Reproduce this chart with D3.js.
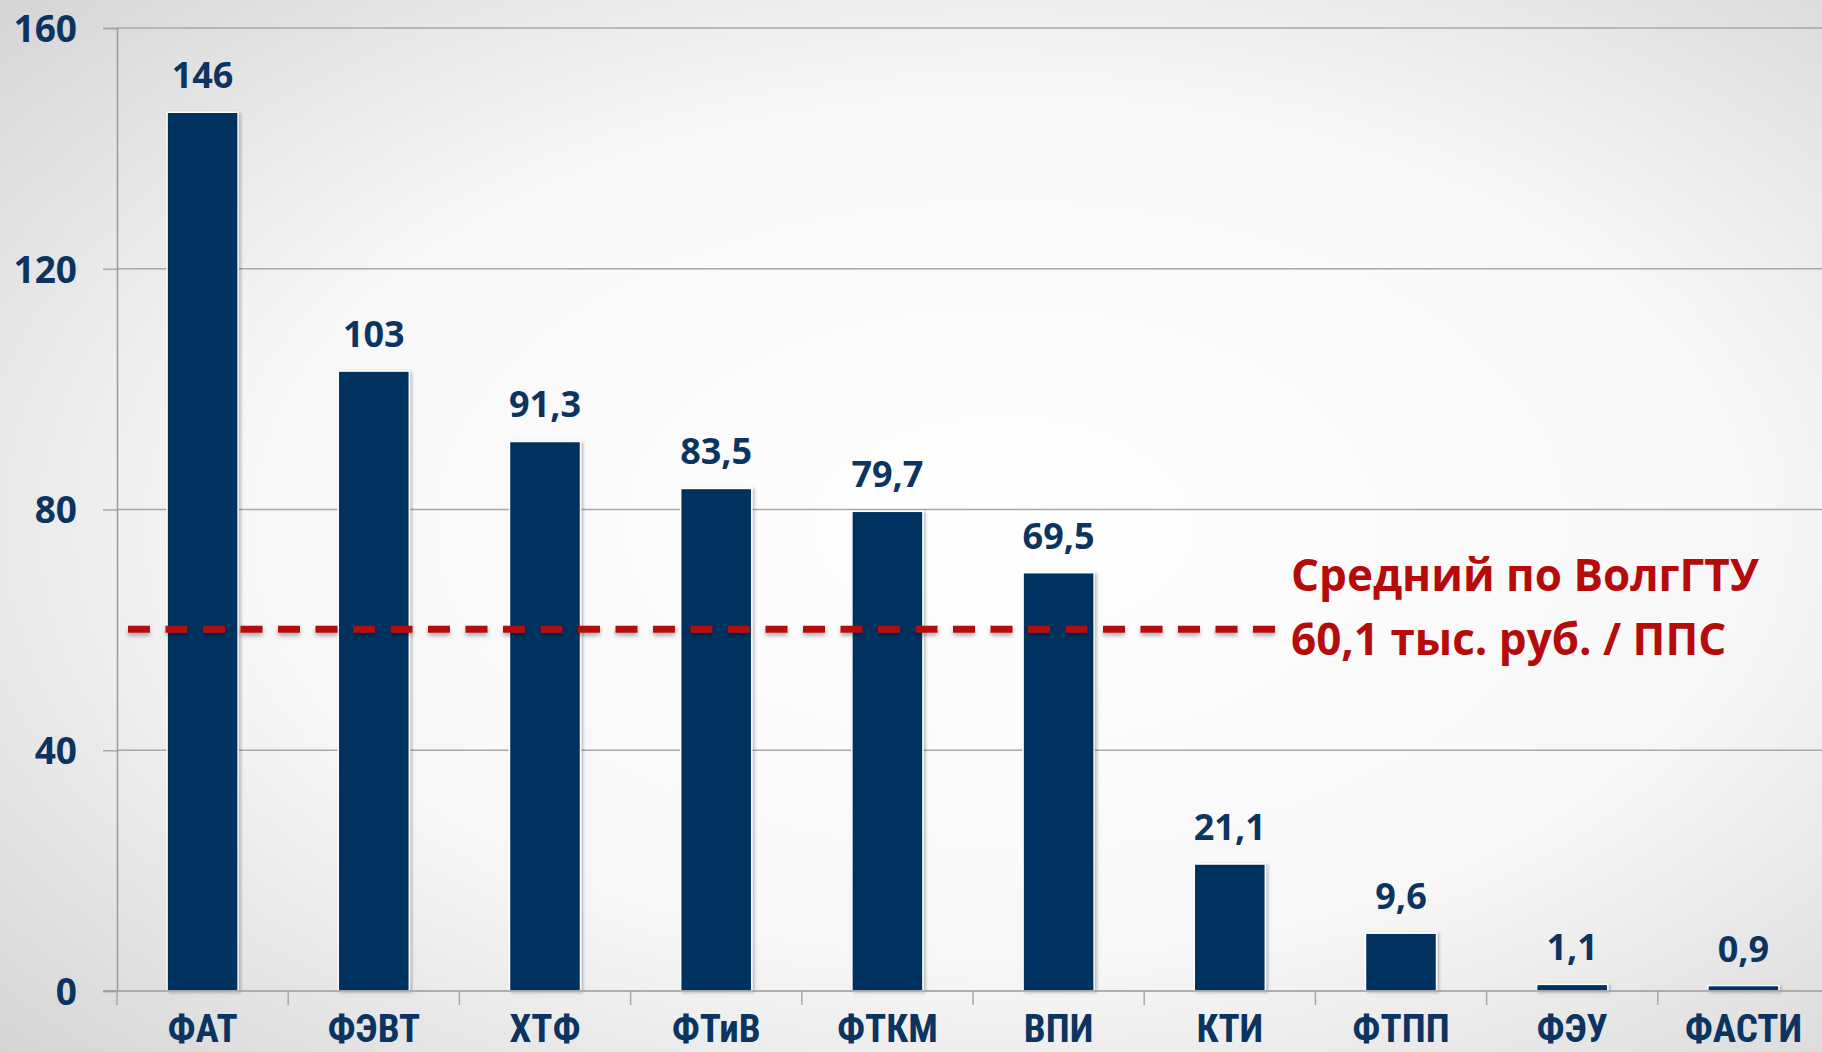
<!DOCTYPE html>
<html>
<head>
<meta charset="utf-8">
<script src="https://cdn.jsdelivr.net/npm/d3@7"></script>
<style>
  html, body { margin: 0; padding: 0; overflow: hidden; }
  svg { display: block; }
</style>
</head>
<body>
<svg id="vis"></svg>
<script>
// data
const faculties = ["ФАТ", "ФЭВТ", "ХТФ", "ФТиВ", "ФТКМ", "ВПИ", "КТИ", "ФТПП", "ФЭУ", "ФАСТИ"];
const values = [146, 103, 91.3, 83.5, 79.7, 69.5, 21.1, 9.6, 1.1, 0.9];
const yTicks = [0, 40, 80, 120, 160];
const average = 60.1;
const averageLines = ["Средний по ВолгГТУ", "60,1 тыс. руб. / ППС"];

const width = 1822;
const height = 1052;
const navy = "#0b3461";
const barColor = "#03315f";
const red = "#b50b0b";

const svg = d3.select("svg#vis")
  .attr("width", width)
  .attr("height", height);

// background: light radial gradient like the slide
const defs = svg.append("defs");
const bg = defs.append("radialGradient")
  .attr("id", "bg")
  .attr("cx", "55%").attr("cy", "50%").attr("r", "75%");
bg.append("stop").attr("offset", "0%").attr("stop-color", "#ffffff");
bg.append("stop").attr("offset", "55%").attr("stop-color", "#f7f7f7");
bg.append("stop").attr("offset", "100%").attr("stop-color", "#d4d4d4");

// shadow under the dashed line (user space so a flat line still gets a region)
const shadow = defs.append("filter").attr("id", "shadow")
  .attr("filterUnits", "userSpaceOnUse")
  .attr("x", 0).attr("y", 0).attr("width", width).attr("height", height);
shadow.append("feDropShadow")
  .attr("dx", 0).attr("dy", 3).attr("stdDeviation", 2)
  .attr("flood-color", "#000").attr("flood-opacity", 0.3);

const barShadow = defs.append("filter").attr("id", "barShadow")
  .attr("filterUnits", "userSpaceOnUse")
  .attr("x", 0).attr("y", 0).attr("width", width).attr("height", height);
barShadow.append("feDropShadow")
  .attr("dx", 2).attr("dy", 1).attr("stdDeviation", 1.5)
  .attr("flood-color", "#000").attr("flood-opacity", 0.25);

svg.append("rect")
  .attr("width", width)
  .attr("height", height)
  .attr("fill", "url(#bg)");

// scales
const x = d3.scaleBand()
  .domain(faculties)
  .range([117, 1829])
  .paddingInner(0.585)
  .paddingOuter(0.2925);

const y = d3.scaleLinear()
  .domain([0, 160])
  .range([991, 28]);

const plot = svg.append("g").attr("id", "plot");

// gridlines
plot.append("g").attr("id", "grid")
  .selectAll("line")
  .data(yTicks.filter(d => d > 0))
  .enter().append("line")
  .attr("x1", 117)
  .attr("x2", width)
  .attr("y1", d => y(d))
  .attr("y2", d => y(d))
  .attr("stroke", "#a8a8a8")
  .attr("stroke-width", 1.5);

// y axis
const yAxis = d3.axisLeft(y).tickValues(yTicks).tickSize(14).tickPadding(26);
const yGroup = plot.append("g").attr("id", "y-axis")
  .attr("transform", translate(117, 0))
  .call(yAxis);
yGroup.select(".domain").attr("stroke", "#9a9a9a").attr("stroke-width", 1.5);
yGroup.selectAll(".tick line").attr("stroke", "#a8a8a8").attr("stroke-width", 1.5);
yGroup.selectAll(".tick text")
  .attr("fill", navy)
  .style("font-family", "'Open Sans', sans-serif")
  .style("font-weight", "bold")
  .style("font-size", "37px")
  .attr("dy", "0.36em");

// bars
plot.append("g").attr("id", "bars")
  .selectAll("rect")
  .data(values)
  .enter().append("rect")
  .attr("x", (d, i) => x(faculties[i]))
  .attr("width", x.bandwidth())
  .attr("y", d => y(d))
  .attr("height", d => y(0) - y(d))
  .attr("fill", barColor)
  .attr("stroke", "#ffffff")
  .attr("stroke-width", 1.5)
  .attr("filter", "url(#barShadow)");

// x axis with tick marks between categories
const xAxisLine = plot.append("g").attr("id", "x-axis");
xAxisLine.append("line")
  .attr("x1", 103).attr("x2", width)
  .attr("y1", y(0)).attr("y2", y(0))
  .attr("stroke", "#9a9a9a")
  .attr("stroke-width", 1.5);
xAxisLine.selectAll("line.tick")
  .data(faculties)
  .enter().append("line")
  .attr("class", "tick")
  .attr("x1", d => x(d) - x.step() * x.paddingInner() / 2)
  .attr("x2", d => x(d) - x.step() * x.paddingInner() / 2)
  .attr("y1", y(0))
  .attr("y2", y(0) + 14)
  .attr("stroke", "#a8a8a8")
  .attr("stroke-width", 1.5);
xAxisLine.selectAll("text")
  .data(faculties)
  .enter().append("text")
  .attr("x", d => x(d) + x.bandwidth() / 2)
  .attr("y", 1042)
  .attr("text-anchor", "middle")
  .attr("fill", navy)
  .style("font-family", "'Liberation Sans Narrow', 'Roboto Condensed', 'Liberation Sans', sans-serif")
  .style("font-weight", "bold")
  .style("font-size", "39px")
  .text(d => d);

// value labels
plot.append("g").attr("id", "labels")
  .selectAll("text")
  .data(values)
  .enter().append("text")
  .attr("x", (d, i) => x(faculties[i]) + x.bandwidth() / 2)
  .attr("y", d => y(d) - 24)
  .attr("text-anchor", "middle")
  .attr("fill", navy)
  .style("font-family", "'Open Sans', sans-serif")
  .style("font-weight", "bold")
  .style("font-size", "36px")
  .text(d => String(d).replace(".", ","));

// average line
plot.append("line")
  .attr("x1", 128)
  .attr("x2", x("КТИ") + x.bandwidth() * 1.15)
  .attr("y1", y(average))
  .attr("y2", y(average))
  .attr("stroke", red)
  .attr("stroke-width", 7)
  .attr("stroke-dasharray", "22 15.5")
  .attr("filter", "url(#shadow)");

const note = plot.append("text")
  .attr("x", 1291)
  .attr("y", y(average) - 38)
  .attr("fill", red)
  .style("font-family", "'Open Sans', sans-serif")
  .style("font-weight", "bold")
  .style("font-size", "44px");
note.selectAll("tspan")
  .data(averageLines)
  .enter().append("tspan")
  .attr("x", 1291)
  .attr("dy", (d, i) => i === 0 ? 0 : 64)
  .text(d => d);

function translate(x, y) {
  return "translate(" + String(x) + "," + String(y) + ")";
}
</script>
</body>
</html>
